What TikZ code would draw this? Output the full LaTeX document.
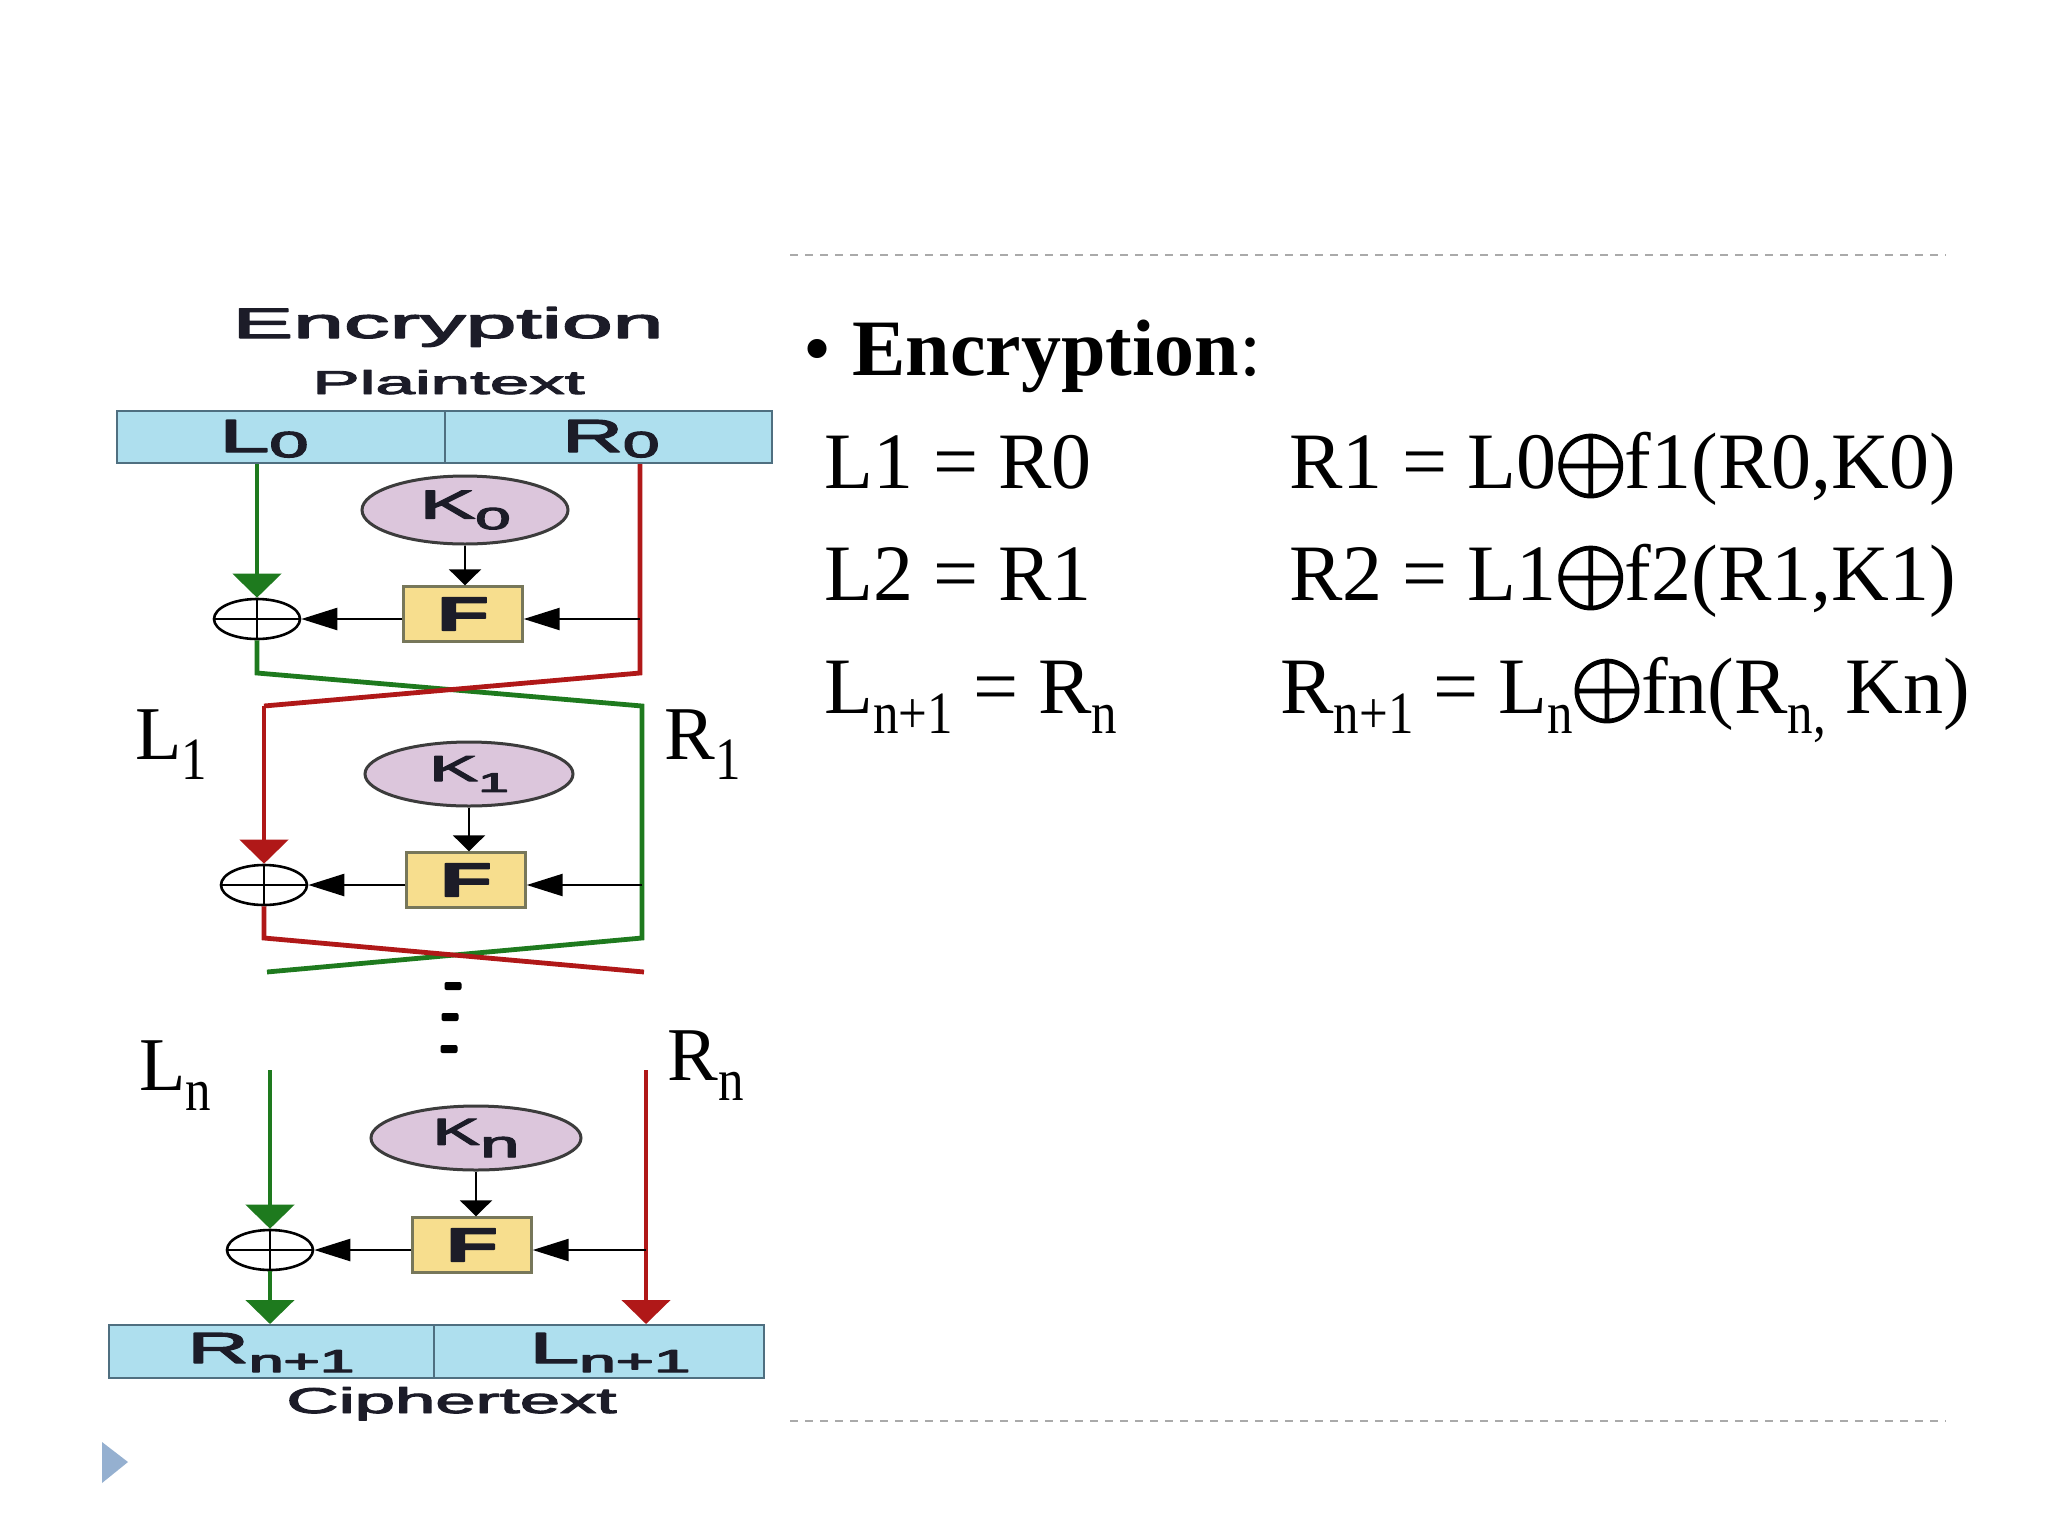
\documentclass[tikz,border=0pt]{standalone}
\usepackage{fontspec}
\usepackage{graphicx}
\setmainfont{Liberation Serif}
\newfontfamily\dsans{Liberation Sans}
\usetikzlibrary{arrows.meta,shapes.geometric}
\newlength\pxu \setlength\pxu{0.5pt}
\newcommand\heavy[1]{\special{pdf:literal direct 2 Tr 0.25 w 1 j}#1\special{pdf:literal direct 0 Tr}}
\newcommand\heavyxo[1]{\special{pdf:literal direct 2 Tr 0.6 w 1 j}#1\special{pdf:literal direct 0 Tr}}
\newcommand\fitbox[3]{\resizebox{#1\pxu}{#2\pxu}{\heavy{#3}}}
\newcommand\esub[1]{\raisebox{-10pt}{\fontsize{30}{30}\selectfont\scalebox{0.85}[1]{#1}}}
\newcommand\xo{\makebox[34pt][c]{\raisebox{-0.75pt}{\resizebox{36.5pt}{!}{\heavyxo{$\oplus$}}}}}
\definecolor{fgreen}{HTML}{1E7A1E}
\definecolor{fred}{HTML}{B01818}
\definecolor{boxblue}{HTML}{AEDFEE}
\definecolor{boxedge}{HTML}{4F6F80}
\definecolor{kfill}{HTML}{DCC6DC}
\definecolor{kedge}{HTML}{3C3C3C}
\definecolor{ffill}{HTML}{F7DE8E}
\definecolor{fedge}{HTML}{77775A}
\definecolor{dashgray}{HTML}{AAAAAA}
\definecolor{tri}{HTML}{95B0D0}
\definecolor{dtext}{HTML}{1C1C28}
\begin{document}
\begin{tikzpicture}[x=0.5pt,y=-0.5pt,
  gline/.style={draw=fgreen,line width=2.4pt},
  rline/.style={draw=fred,line width=2.4pt},
  bline/.style={draw=black,line width=1.2pt},
  bigtip/.style={-{Triangle[width=24pt,length=12pt]}},
  vtip/.style={-{Triangle[width=16pt,length=8pt]}},
  htip/.style={-{Triangle[width=11pt,length=18pt]}},
  halfbox/.style={rectangle,draw=boxedge,fill=boxblue,line width=1pt,inner sep=0,minimum height=26pt},
  keyell/.style={ellipse,draw=kedge,fill=kfill,line width=1.5pt,inner sep=0,font=\dsans\fontsize{10}{12}\selectfont,text=dtext},
  fbox/.style={rectangle,draw=fedge,fill=ffill,line width=1.2pt,inner sep=0,minimum width=59.5pt,minimum height=27.5pt,font=\dsans\fontsize{10}{12}\selectfont\bfseries,text=dtext},
  xor/.style={ellipse,draw=black,line width=1.3pt,inner sep=0,minimum width=43pt,minimum height=20pt},
  xorline/.style={draw=black,line width=1.3pt},
  dtxt/.style={inner sep=0,anchor=base west,font=\dsans\fontsize{10}{12}\selectfont,text=dtext},
  eq/.style={inner sep=0,anchor=base west,font=\fontsize{40}{48}\selectfont},
  lab/.style={inner sep=0,anchor=base west,font=\fontsize{38}{44}\selectfont},
  dotbox/.style={rectangle,fill=black,inner sep=0,minimum width=8.5pt,minimum height=4pt,rounded corners=1pt},
  sep/.style={draw=dashgray,line width=1pt,dash pattern=on 4pt off 3.5pt}
]
\useasboundingbox (0,0) rectangle (2048,1536);
\fill[white] (0,0) rectangle (2048,1536);

% separators and slide bullet
\coordinate (s1a) at (790,255); \coordinate (s1b) at (1946,255);
\coordinate (s2a) at (790,1421); \coordinate (s2b) at (1946,1421);
\draw[sep] (s1a) -- (s1b);
\draw[sep] (s2a) -- (s2b);
\fill[tri] (102,1442) -- (102,1483) -- (128,1462) -- cycle;

% titles
\node[dtxt] (title) at (232,338) {\fitbox{431}{31}{Encryption}};
\node[dtxt] (plain) at (312,394) {\fitbox{272}{24}{Plaintext}};

% plaintext box
\node[halfbox,minimum width=164pt] (pL) at (281,437) {};
\node[halfbox,minimum width=163.5pt] (pR) at (608.5,437) {};
\node[dtxt] (tL0) at (219,452) {\fitbox{89}{32}{L\raisebox{-1.1pt}{\fontsize{7.8}{8}\selectfont 0}}};
\node[dtxt] (tR0) at (562,452) {\fitbox{97}{32}{R\raisebox{-1.1pt}{\fontsize{7.8}{8}\selectfont 0}}};

% round 1
\node[keyell,minimum width=103pt,minimum height=34pt] (k0) at (465,510) {\fitbox{91}{28}{K\raisebox{-2.6pt}{\fontsize{7.5}{8}\selectfont 0}}};
\node[fbox] (f0) at (463,614) {\fitbox{52}{33}{F}};
\node[xor] (x0) at (257,619) {};
\draw[xorline] (x0.north) -- (x0.south) (x0.west) -- (x0.east);
\coordinate (g0b) at (257,673);
\coordinate (r0b) at (640,673);
\coordinate (c1L) at (264,706);
\coordinate (c1R) at (642,706);

% round 2
\node[keyell,minimum width=104pt,minimum height=32pt] (k1) at (469,774) {\fitbox{80}{25}{K\raisebox{-3pt}{\fontsize{7.5}{8}\selectfont 1}}};
\node[fbox] (f1) at (466,880) {\fitbox{52}{33}{F}};
\node[xor] (x1) at (264,885) {};
\draw[xorline] (x1.north) -- (x1.south) (x1.west) -- (x1.east);
\coordinate (r1b) at (264,938);
\coordinate (g1b) at (642,938);
\coordinate (c2L) at (267,972);
\coordinate (c2R) at (644,972);

% dots
\node[dotbox] (d1) at (453,986) {};
\node[dotbox] (d2) at (450,1017) {};
\node[dotbox] (d3) at (449,1049) {};

% round n
\coordinate (gn) at (270,1070);
\coordinate (rn) at (646,1070);
\node[keyell,minimum width=105pt,minimum height=32pt] (kn) at (476,1138) {\fitbox{87}{26}{K\raisebox{-3.3pt}{\fontsize{10}{10}\selectfont n}}};
\node[fbox] (fn) at (472,1245) {\fitbox{52}{33}{F}};
\node[xor] (xn) at (270,1250) {};
\draw[xorline] (xn.north) -- (xn.south) (xn.west) -- (xn.east);

% ciphertext box
\node[halfbox,minimum width=162.5pt,minimum height=26.5pt] (cL) at (271.5,1351.5) {};
\node[halfbox,minimum width=165pt,minimum height=26.5pt] (cR) at (599,1351.5) {};
\node[dtxt] (tRn1) at (187,1363) {\fitbox{167}{30}{R\raisebox{-2.1pt}{\fontsize{7.3}{8}\selectfont n+1}}};
\node[dtxt] (tLn1) at (529,1363) {\fitbox{161}{30}{L\raisebox{-2.1pt}{\fontsize{7.3}{8}\selectfont n+1}}};
\node[dtxt] (cipher) at (286,1413) {\fitbox{330}{26}{Ciphertext}};

% coloured data paths
\draw[gline,bigtip] (x0 |- pL.south) -- (x0.north);
\draw[gline] (x0.south) -- (g0b) -- (c1R) -- (g1b) -- (c2L);
\draw[rline] (r0b |- pR.south) -- (r0b) -- (c1L);
\draw[rline,bigtip] (c1L) -- (x1.north);
\draw[rline] (x1.south) -- (r1b) -- (c2R);
\draw[gline,bigtip] (gn) -- (xn.north);
\draw[gline,bigtip] (xn.south) -- (xn |- cL.north);
\draw[rline,bigtip] (rn) -- (rn |- cR.north);

% black function paths
\draw[bline,vtip] (k0.south) -- (k0.south |- f0.north);
\draw[bline,htip] (r0b |- x0) -- (f0.east |- x0);
\draw[bline,htip] (f0.west |- x0) -- (x0.east);
\draw[bline,vtip] (k1.south) -- (k1.south |- f1.north);
\draw[bline,htip] (c1R |- x1) -- (f1.east |- x1);
\draw[bline,htip] (f1.west |- x1) -- (x1.east);
\draw[bline,vtip] (kn.south) -- (kn.south |- fn.north);
\draw[bline,htip] (rn |- xn) -- (fn.east |- xn);
\draw[bline,htip] (fn.west |- xn) -- (xn.east);

% side labels
\node[lab] (lL1) at (135,759) {L\esub{1}};
\node[lab] (lR1) at (664,759) {R\esub{1}};
\node[lab] (lLn) at (139,1090) {L\esub{n}};
\node[lab] (lRn) at (667,1080) {R\esub{n}};

% equations
\node[eq] (hb) at (803,375) {•};
\node[eq] (hd) at (852,375) {\textbf{Encryption}:};
\node[eq] (e1a) at (824,488) {L1 = R0};
\node[eq] (e1b) at (1289,488) {R1 = L0\xo f1(R0,K0)};
\node[eq] (e2a) at (824,600) {L2 = R1};
\node[eq] (e2b) at (1289,600) {R2 = L1\xo f2(R1,K1)};
\node[eq] (e3a) at (824,713) {L\esub{n+1} = R\esub{n}};
\node[eq] (e3b) at (1280,713) {R\esub{n+1} = L\esub{n}\xo fn(R\esub{n,} Kn)};
\end{tikzpicture}
\end{document}
